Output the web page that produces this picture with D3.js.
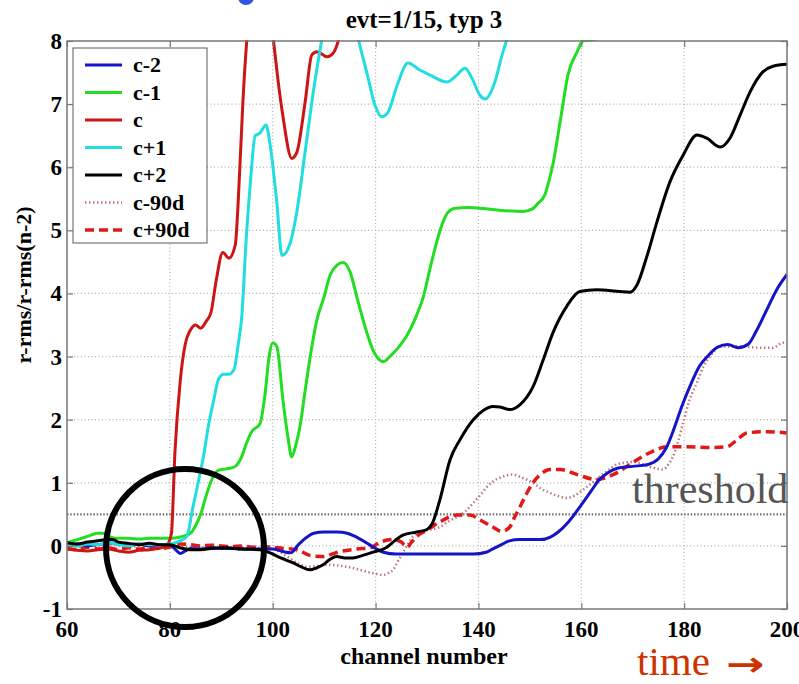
<!DOCTYPE html>
<html><head><meta charset="utf-8">
<script src="https://cdn.jsdelivr.net/npm/d3@7"></script>
<style>
body{margin:0;background:#fff;}
text{font-family:"Liberation Serif","Times New Roman",serif;}
</style></head>
<body><svg id="chart" width="799" height="684"></svg>
<script>
const title = "evt=1/15, typ 3";
const xLabel = "channel number";
const yLabel = "r-rms/r-rms(n-2)";
const xTicks = [60,80,100,120,140,160,180,200];
const yTicks = [-1,0,1,2,3,4,5,6,7,8];
const thresholdValue = 0.5;
const seriesNames = ["c-2","c-1","c","c+1","c+2","c-90d","c+90d"];

const cMinus2 = [[60,0.02],[62,0.03],[64,0.0],[66,0.02],[68,0.04],[70,0.05],[72,0.02],[74,0.03],[76,0.0],[78,0.02],[80,0.02],[81,-0.05],[82,-0.12],[83,-0.08],[84,-0.04],[86,-0.05],[88,-0.03],[90,-0.04],[92,-0.04],[94,-0.05],[96,-0.05],[98,-0.05],[100,-0.05],[102,-0.09],[103.5,-0.11],[105,0.02],[106.5,0.13],[108,0.2],[110,0.22],[112.5,0.22],[114.5,0.2],[116,0.15],[118,0.06],[120,-0.04],[121.5,-0.1],[124,-0.13],[130,-0.13],[135,-0.13],[139,-0.13],[141.5,-0.1],[143,-0.04],[144.5,0.02],[146,0.08],[148,0.1],[152,0.1],[154,0.14],[155.5,0.22],[157.5,0.38],[160,0.65],[162,0.88],[163.5,1.05],[165,1.15],[167,1.23],[170,1.26],[173,1.29],[175,1.38],[176.5,1.55],[178,1.85],[179.5,2.2],[181.5,2.6],[183,2.85],[184.5,3.0],[186.5,3.15],[188.5,3.19],[190.5,3.14],[192.5,3.2],[194,3.4],[196,3.73],[198,4.06],[200,4.3]];
const cMinus1 = [[60,0.05],[62,0.1],[64,0.15],[66,0.2],[67,0.2],[68.5,0.14],[70,0.12],[72,0.12],[74,0.11],[76,0.12],[78,0.12],[80,0.12],[82,0.14],[84,0.2],[85,0.32],[86,0.5],[87,0.78],[88,1.02],[89.5,1.2],[91,1.22],[92.5,1.25],[94,1.42],[95,1.65],[96,1.82],[97.5,1.93],[98.5,2.4],[99.3,3.0],[100,3.22],[100.8,3.16],[102,2.3],[103,1.7],[103.7,1.41],[104.5,1.6],[105.3,1.89],[106.2,2.4],[107.2,2.95],[108.5,3.55],[110,3.95],[111.2,4.3],[112.5,4.45],[113.7,4.49],[115,4.35],[116.5,3.9],[118.3,3.38],[119.5,3.1],[120.5,2.97],[121.5,2.92],[123,3.02],[124.5,3.15],[126,3.32],[128,3.66],[129.3,3.95],[130.6,4.4],[132,4.85],[133.1,5.13],[134,5.28],[135.5,5.35],[138,5.36],[140.3,5.35],[144,5.32],[148.7,5.3],[150.5,5.34],[151.5,5.42],[152.9,5.56],[153.7,5.78],[154.5,6.05],[156,6.78],[157.4,7.46],[159.2,7.83],[160.3,8.0],[162,8.02],[163.6,8.05],[165,8.2],[167,8.5]];
const cCenter = [[60,-0.05],[62,-0.07],[64,-0.08],[66,-0.06],[68,-0.05],[70,-0.08],[72,-0.1],[74,-0.07],[76,-0.06],[78,-0.04],[79.5,0.02],[80.3,0.2],[81,1.5],[82,2.6],[83,3.2],[84,3.42],[85,3.5],[86,3.45],[87,3.55],[88,3.7],[89,4.2],[90.3,4.65],[91.5,4.56],[92.7,4.76],[93.6,5.98],[94.2,7.03],[95,8.05],[96,8.7],[98,9.0],[99.5,8.4],[100.3,7.9],[101,7.4],[102,6.8],[103.7,6.14],[104.7,6.24],[106.3,7.03],[107.6,7.78],[108.6,7.83],[110.6,7.75],[111.7,7.8],[112.9,8.05],[114,8.5],[116,9.0]];
const cPlus1 = [[60,0.02],[62,0.0],[64,0.03],[66,0.02],[68,0.05],[70,0.02],[72,0.0],[74,0.03],[76,0.02],[78,0.02],[80,0.03],[82,0.08],[83.3,0.15],[84.5,0.62],[85.5,1.0],[86.5,1.4],[87.5,1.9],[88.5,2.3],[89.5,2.65],[90.5,2.72],[91.5,2.72],[92.5,2.8],[93.3,3.2],[94,3.65],[94.8,4.8],[95.6,5.7],[96.6,6.5],[97.5,6.54],[98.7,6.67],[99.5,6.35],[100.8,5.44],[101.8,4.6],[103.4,4.8],[104.7,5.3],[106.3,6.24],[107.8,7.14],[109.6,8.05],[111,8.7],[114,9.0],[115.5,8.5],[116.6,8.05],[118.3,7.5],[119.9,6.98],[121.2,6.8],[122.4,6.87],[124.2,7.3],[126.3,7.65],[128.6,7.54],[130.6,7.46],[133.9,7.35],[135.8,7.46],[137.4,7.57],[138.8,7.4],[140.3,7.14],[141.3,7.08],[143.2,7.35],[144.6,7.78],[145.6,8.05],[147,8.6]];
const cPlus2 = [[60,0.05],[62,0.03],[64,0.06],[66,0.08],[68,0.1],[69,0.1],[70,0.06],[72,0.04],[74,0.02],[76,0.04],[78,0.02],[80,0.02],[82,-0.03],[84,-0.06],[86,-0.06],[88,-0.04],[91,-0.03],[94,-0.05],[97.5,-0.06],[99.5,-0.11],[101,-0.17],[102.5,-0.22],[104,-0.27],[105.5,-0.33],[107.2,-0.38],[108.5,-0.35],[109.8,-0.3],[111,-0.22],[112.5,-0.17],[114,-0.19],[115.6,-0.19],[117.5,-0.15],[119.5,-0.1],[122.2,-0.02],[123.7,0.08],[125.3,0.17],[128,0.22],[130,0.26],[131,0.35],[132.5,0.73],[134.5,1.37],[136.4,1.68],[139,2.0],[141,2.15],[142.8,2.21],[144.2,2.2],[146.1,2.16],[148.1,2.24],[150.6,2.52],[152.6,2.95],[154.5,3.38],[157.2,3.8],[159.7,4.03],[163,4.06],[167.5,4.03],[169.5,4.02],[170.8,4.13],[172.8,4.6],[174.7,5.13],[177.2,5.76],[179.8,6.19],[182.5,6.51],[184.4,6.46],[187,6.32],[188.9,6.46],[190.9,6.83],[192.8,7.19],[195.3,7.51],[197.3,7.6],[200,7.63]];
const cMinus90d = [[60,0.0],[62,-0.02],[64,0.02],[66,0.0],[68,0.03],[70,0.0],[72,-0.02],[74,0.0],[76,0.02],[78,0.0],[80,0.0],[84,-0.02],[88,-0.02],[92,-0.02],[96,-0.03],[99,-0.03],[101,-0.08],[103,-0.18],[105,-0.28],[106.7,-0.33],[108.5,-0.32],[110.6,-0.3],[112.5,-0.31],[114.4,-0.33],[116.5,-0.37],[118.3,-0.41],[120,-0.44],[121.4,-0.46],[122.5,-0.43],[123.4,-0.38],[124.3,-0.25],[125.3,-0.11],[126.3,0.03],[127.3,0.15],[128.5,0.21],[130,0.25],[132.5,0.3],[134,0.38],[135.8,0.46],[137.5,0.55],[139,0.68],[140.5,0.82],[141.7,0.94],[143,1.03],[144.2,1.08],[146.7,1.13],[148.5,1.08],[150.6,1.0],[152.3,0.9],[153.9,0.84],[155.5,0.79],[157.2,0.76],[158.8,0.8],[160.3,0.89],[162,0.99],[163.6,1.1],[165.3,1.2],[166.9,1.29],[170,1.33],[173.4,1.25],[175.9,1.21],[177,1.3],[177.8,1.41],[178.8,1.65],[179.8,1.95],[181,2.3],[182.5,2.59],[183.8,2.85],[185,3.0],[187,3.16],[190.9,3.16],[194.7,3.14],[197.3,3.14],[199.2,3.22],[200,3.2]];
const cPlus90d = [[60,-0.04],[62,-0.06],[64,-0.02],[66,-0.05],[68,-0.03],[70,-0.06],[72,-0.03],[74,-0.05],[76,-0.02],[78,-0.04],[80,-0.02],[82,0.03],[84,0.02],[86,0.0],[88,0.01],[90,0.0],[92,-0.01],[94,0.0],[96,-0.02],[98,-0.01],[100,-0.02],[102,-0.04],[104.7,-0.06],[107.2,-0.15],[109.8,-0.17],[111.5,-0.13],[113.1,-0.09],[116.4,-0.05],[119,-0.03],[120.9,0.06],[123.4,0.1],[125,0.06],[126.1,-0.02],[127,0.06],[128,0.15],[130,0.25],[132.5,0.38],[135.8,0.49],[138.4,0.49],[140.3,0.41],[142.8,0.3],[144.5,0.23],[146.1,0.3],[147,0.45],[148.1,0.62],[149.5,0.85],[150.6,1.0],[152.3,1.15],[153.9,1.21],[155.9,1.21],[159.2,1.13],[163,1.05],[166.2,1.13],[170,1.32],[173.4,1.48],[176.7,1.57],[180.6,1.57],[185.6,1.56],[188.3,1.57],[190,1.66],[192.2,1.79],[196.1,1.81],[200,1.79]];

const seriesData = [cMinus2, cMinus1, cCenter, cPlus1, cPlus2, cMinus90d, cPlus90d];
const seriesStyle = [
  {color:"#1414c8", width:3, dash:null},
  {color:"#22dd22", width:3, dash:null},
  {color:"#cc1515", width:3, dash:null},
  {color:"#22dde0", width:3, dash:null},
  {color:"#000000", width:3, dash:null},
  {color:"#c07880", width:2.5, dash:"1.5,2.5"},
  {color:"#e01818", width:3.5, dash:"9,5"}
];

const svg = d3.select("#chart");
const L = 67, R = 787, T = 41, B = 609;
const x = d3.scaleLinear().domain([60,200]).range([L,R]);
const y = d3.scaleLinear().domain([-1,8]).range([B,T]);

// stray blue fragment at the top
svg.append("ellipse").attr("cx",246).attr("cy",-3).attr("rx",8).attr("ry",8).attr("fill","#2f55e0");

// title
svg.append("text").attr("x",424).attr("y",28).attr("text-anchor","middle")
  .attr("font-weight","bold").attr("font-size",25).text(title);

// grid
const grid = svg.append("g");
xTicks.slice(1,-1).forEach(t=>{
  grid.append("line").attr("x1",x(t)).attr("x2",x(t)).attr("y1",T).attr("y2",B)
    .attr("stroke","#b0b0b0").attr("stroke-width",1.2).attr("stroke-dasharray","1,2.5");
});
yTicks.slice(1,-1).forEach(t=>{
  grid.append("line").attr("x1",L).attr("x2",R).attr("y1",y(t)).attr("y2",y(t))
    .attr("stroke","#b0b0b0").attr("stroke-width",1.2).attr("stroke-dasharray","1,2.5");
});
// threshold
svg.append("line").attr("x1",L).attr("x2",R).attr("y1",y(thresholdValue)).attr("y2",y(thresholdValue))
  .attr("stroke","#707070").attr("stroke-width",2.2).attr("stroke-dasharray","1.5,1.8");

// clip
svg.append("defs").append("clipPath").attr("id","plotclip").append("rect")
  .attr("x",L).attr("y",T-1).attr("width",R-L).attr("height",B-T+1);

const line = d3.line().x(d=>x(d[0])).y(d=>y(d[1])).curve(d3.curveMonotoneX);
const lines = svg.append("g").attr("clip-path","url(#plotclip)");
const drawOrder = [5,6,0,1,2,3,4];
drawOrder.forEach(i=>{
  const s = seriesStyle[i];
  const p = lines.append("path").datum(seriesData[i]).attr("d",line)
    .attr("fill","none").attr("stroke",s.color).attr("stroke-width",s.width)
    .attr("stroke-linejoin","round");
  if (s.dash) p.attr("stroke-dasharray",s.dash);
});

// axes frame and ticks
const ax = svg.append("g");
ax.append("rect").attr("x",L).attr("y",T).attr("width",R-L).attr("height",B-T)
  .attr("fill","none").attr("stroke","#777").attr("stroke-width",1.5);
const xAxisB = d3.axisBottom(x).tickValues(xTicks).tickSize(-6).tickFormat("");
const xAxisT = d3.axisTop(x).tickValues(xTicks).tickSize(-6).tickFormat("");
const yAxisL = d3.axisLeft(y).tickValues(yTicks).tickSize(-6).tickFormat("");
const yAxisR = d3.axisRight(y).tickValues(yTicks).tickSize(-6).tickFormat("");
[[xAxisB,`translate(0,${B})`],[xAxisT,`translate(0,${T})`],[yAxisL,`translate(${L},0)`],[yAxisR,`translate(${R},0)`]].forEach(([a,tr])=>{
  const g = ax.append("g").attr("transform",tr).call(a);
  g.select(".domain").remove();
  g.selectAll("line").attr("stroke","#777").attr("stroke-width",1.2);
});
// tick labels
xTicks.forEach(t=>{
  svg.append("text").attr("x",x(t)).attr("y",637).attr("text-anchor","middle")
    .attr("font-weight","bold").attr("font-size",23).text(t);
});
yTicks.forEach(t=>{
  svg.append("text").attr("x",62).attr("y",y(t)+8).attr("text-anchor","end")
    .attr("font-weight","bold").attr("font-size",23).text(t);
});
// axis labels
svg.append("text").attr("x",424).attr("y",664).attr("text-anchor","middle")
  .attr("font-weight","bold").attr("font-size",24).text(xLabel);
svg.append("text").attr("transform","translate(31,285) rotate(-90)").attr("text-anchor","middle")
  .attr("font-weight","bold").attr("font-size",22).text(yLabel);

// threshold label
svg.append("text").attr("x",632).attr("y",503).attr("font-size",42).attr("fill","#555").text("threshold");

// time label
svg.append("text").attr("x",637).attr("y",675).attr("font-size",41).attr("fill","#cc3300").text("time");
svg.append("text").attr("transform","translate(726,676) scale(1.35,1)").attr("font-size",34)
  .style("font-family","'DejaVu Sans', sans-serif").style("font-weight","bold")
  .attr("fill","#cc3300").text("\u2192");

// legend
const lg = svg.append("g");
lg.append("rect").attr("x",73).attr("y",48).attr("width",134).attr("height",195)
  .attr("fill","#fff").attr("stroke","#777").attr("stroke-width",1.2);
seriesNames.forEach((n,i)=>{
  const yy = 65 + i*27.5;
  const s = seriesStyle[i];
  const l = lg.append("line").attr("x1",85).attr("x2",122).attr("y1",yy).attr("y2",yy)
    .attr("stroke",s.color).attr("stroke-width",s.width);
  if (s.dash) l.attr("stroke-dasharray",s.dash);
  lg.append("text").attr("x",133).attr("y",yy+7).attr("font-weight","bold").attr("font-size",22).text(n);
});

// highlight circle
svg.append("circle").attr("cx",185).attr("cy",548).attr("r",79)
  .attr("fill","none").attr("stroke","#000").attr("stroke-width",6);
</script></body></html>
